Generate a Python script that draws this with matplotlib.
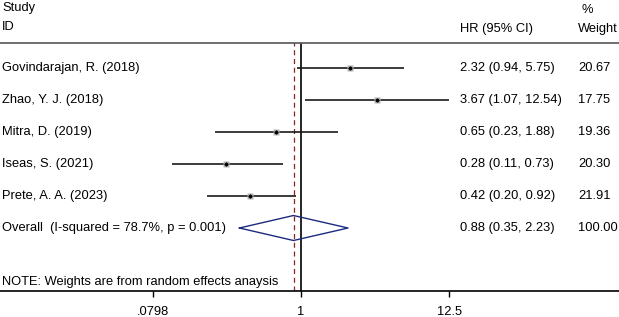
import numpy as np
import matplotlib
matplotlib.use('Agg')
import matplotlib.pyplot as plt
from matplotlib.ticker import FixedLocator, NullLocator
import matplotlib.transforms as mtransforms

plt.rcParams['font.family'] = ['Liberation Sans', 'DejaVu Sans']
plt.rcParams['font.size'] = 9.3

# study data (hazard ratios with 95% CI, weights)
studies = ['Govindarajan, R. (2018)', 'Zhao, Y. J. (2018)', 'Mitra, D. (2019)',
           'Iseas, S. (2021)', 'Prete, A. A. (2023)']
hr = [2.32, 3.67, 0.65, 0.28, 0.42]
lo = [0.94, 1.07, 0.23, 0.11, 0.20]
hi = [5.75, 12.54, 1.88, 0.73, 0.92]
weight = ['20.67', '17.75', '19.36', '20.30', '21.91']

overall_label = 'Overall  (I-squared = 78.7%, p = 0.001)'
overall_hr, overall_lo, overall_hi = 0.88, 0.35, 2.23
overall_weight = '100.00'

tick_vals = [0.0798, 1, 12.5]
tick_labels = ['.0798', '1', '12.5']

W, H = 619, 317
fig = plt.figure(figsize=(W / 100, H / 100), dpi=100)
# plot band from header rule (y=43px) down to axis line (y=291px)
ax = fig.add_axes([0, 1 - 291 / H, 1, (291 - 43) / H])

ax.set_xscale('log')
px_dec = 135.0
ax.set_xlim(10 ** (-301 / px_dec), 10 ** ((W - 301) / px_dec))
row_px = 32.0
ax.set_ylim((291 - 68) / row_px, (43 - 68) / row_px)

for s in ['left', 'right']:
    ax.spines[s].set_visible(False)
ax.spines['top'].set_color('#555555')
ax.spines['top'].set_linewidth(1.2)
ax.spines['bottom'].set_color('black')
ax.spines['bottom'].set_linewidth(1.2)
ax.set_yticks([])
ax.xaxis.set_major_locator(FixedLocator(tick_vals))
ax.xaxis.set_minor_locator(NullLocator())
ax.set_xticklabels(tick_labels)
ax.tick_params(axis='x', length=4.5, width=1, pad=6, labelsize=9.3)

# reference lines
ax.axvline(1, color='black', lw=1.2, zorder=1)
ax.axvline(overall_hr, color='#8b2323', lw=0.9, ls=(0, (4, 3)), zorder=1)

rows = np.arange(len(studies))
ax.hlines(rows, lo, hi, color='#1a1a1a', lw=1.2, zorder=2)
ax.plot(hr, rows, 's', color='#b4b4b4', ms=4.6, mec='none', zorder=3)
ax.plot(hr, rows, 'D', color='black', ms=1.6, zorder=4)

# overall diamond
yo = len(studies)
hh = 12.5 / row_px
ax.plot([overall_lo, overall_hr, overall_hi, overall_hr, overall_lo],
        [yo, yo - hh, yo, yo + hh, yo], color='#1c2a80', lw=1.0, zorder=3)

# text columns
tr = mtransforms.blended_transform_factory(ax.transAxes, ax.transData)
x_id, x_hr, x_w = 2 / W, 460 / W, 578 / W

for i, name in enumerate(studies):
    ax.text(x_id, i, name, transform=tr, va='center', ha='left')
    ax.text(x_hr, i, '%.2f (%.2f, %.2f)' % (hr[i], lo[i], hi[i]),
            transform=tr, va='center', ha='left')
    ax.text(x_w, i, weight[i], transform=tr, va='center', ha='left')

ax.text(x_id, yo, overall_label, transform=tr, va='center', ha='left')
ax.text(x_hr, yo, '%.2f (%.2f, %.2f)' % (overall_hr, overall_lo, overall_hi),
        transform=tr, va='center', ha='left')
ax.text(x_w, yo, overall_weight, transform=tr, va='center', ha='left')

ax.text(x_id, (282 - 68) / row_px, 'NOTE: Weights are from random effects anaysis',
        transform=tr, va='center', ha='left')

# header
def hy(p):
    return (p - 68) / row_px

ax.text(x_id, hy(8), 'Study', transform=tr, va='center', ha='left', clip_on=False)
ax.text(x_id, hy(27), 'ID', transform=tr, va='center', ha='left', clip_on=False)
ax.text(x_hr, hy(29), 'HR (95% CI)', transform=tr, va='center', ha='left', clip_on=False)
ax.text(582 / W, hy(10), '%', transform=tr, va='center', ha='left', clip_on=False)
ax.text(x_w, hy(29), 'Weight', transform=tr, va='center', ha='left', clip_on=False)

fig.savefig('out.png', dpi=100)
